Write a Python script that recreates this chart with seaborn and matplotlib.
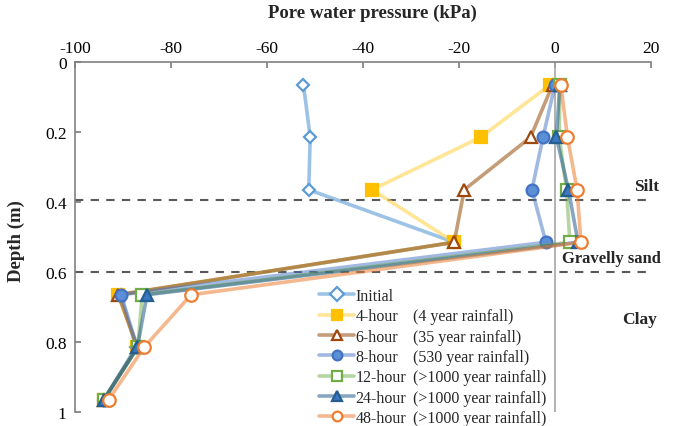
import matplotlib
matplotlib.use("Agg")
import matplotlib.pyplot as plt
from matplotlib.colors import to_rgba
import seaborn as sns
import pandas as pd

# Measurement depths (m)
depth = [0.065, 0.215, 0.365, 0.515, 0.665, 0.815, 0.965]

# Pore water pressure profiles (kPa)
initial = [-52.4, -51.0, -51.3, -21.0, -90.5, -87.3, -94.0]
h4 = [-1.0, -15.5, -38.1, -21.0, -91.0, -87.0, -94.0]
h6 = [-0.5, -5.1, -18.9, -21.0, -91.0, -87.0, -94.0]
h8 = [0.0, -2.5, -4.8, -1.9, -90.4, -87.0, -94.0]
h12 = [1.0, 0.9, 2.4, 3.1, -86.0, -86.9, -94.0]
h24 = [1.0, 0.3, 2.8, 4.8, -85.0, -87.0, -94.0]
h48 = [1.2, 2.6, 4.6, 5.4, -75.8, -85.6, -93.0]

series_names = ["Initial", "4-hour", "6-hour", "8-hour", "12-hour", "24-hour", "48-hour"]
return_periods = ["", "(4 year rainfall)", "(35 year rainfall)", "(530 year rainfall)",
                  "(>1000 year rainfall)", "(>1000 year rainfall)", "(>1000 year rainfall)"]
layer_boundaries = [0.395, 0.6]

sns.set_theme(style="white")
plt.rcParams["font.family"] = ["Liberation Serif", "DejaVu Serif"]
plt.rcParams["axes.unicode_minus"] = False

# (line colour, line alpha, marker, marker face, marker edge, marker size)
styles = [
    ("#5B9BD5", 0.6, "D", "white", "#5B9BD5", 6.5),
    ("#FFD54F", 0.6, "s", "#FFC000", "#FFC000", 8),
    ("#9E5A1E", 0.6, "^", "white", "#9E480E", 8.5),
    ("#4472C4", 0.5, "o", "#5B8FD6", "#4472C4", 8.5),
    ("#70AD47", 0.5, "s", "white", "#70AD47", 8),
    ("#255E91", 0.55, "^", "#3C78C0", "#255E91", 8.5),
    ("#ED7D31", 0.55, "o", "white", "#ED7D31", 9),
]

fig = plt.figure(figsize=(6.73, 4.27), dpi=100)
ax = fig.add_axes([75 / 673, 1 - 413 / 427, (651 - 75) / 673, (413 - 63) / 427])

ax.axvline(0, color="#A6A6A6", lw=1.2, zorder=1)
for b in layer_boundaries:
    ax.axhline(b, color="#595959", lw=1.5, ls=(0, (4, 3.5)), zorder=1)

all_vals = [initial, h4, h6, h8, h12, h24, h48]
handles = []
for i, (name, vals, st) in enumerate(zip(series_names, all_vals, styles)):
    lc, la, mk, mfc, mec, ms = st
    df = pd.DataFrame({"pressure": vals, "depth": depth})
    sns.lineplot(data=df, x="pressure", y="depth", sort=False, estimator=None,
                 color=to_rgba(lc, la), lw=2.6, marker=mk, markersize=ms,
                 markerfacecolor=mfc, markeredgecolor=mec, markeredgewidth=1.6,
                 ax=ax, label=name, zorder=2 + i)
    handles.append(ax.lines[-1])

ax.set_xlim(-100, 20)
ax.set_ylim(1, 0)
ax.set_xticks(range(-100, 21, 20))
ax.set_yticks([0, 0.2, 0.4, 0.6, 0.8, 1.0])
ax.set_yticklabels(["0", "0.2", "0.4", "0.6", "0.8", "1"])
ax.xaxis.tick_top()
ax.xaxis.set_label_position("top")
ax.tick_params(axis="both", direction="in", length=4, color="#808080", labelsize=12.5,
               labelcolor="black", pad=5)
ax.tick_params(axis="x", top=True, bottom=False, pad=4)
ax.tick_params(axis="y", left=True, right=False, pad=6)
for side in ["right", "bottom"]:
    ax.spines[side].set_visible(False)
for side in ["left", "top"]:
    ax.spines[side].set_color("#808080")
    ax.spines[side].set_linewidth(1.2)

ax.set_xlabel("Pore water pressure (kPa)", fontsize=13.5, fontweight="bold")
ax.set_ylabel("Depth (m)", fontsize=13.5, fontweight="bold")
ax.xaxis.set_label_coords(0.517, 1 + 45 / 350)
ax.yaxis.set_label_coords(-50 / 576, 0.49)

ax.text(19.0, 0.355, "Silt", ha="center", va="center", fontsize=12.5, fontweight="bold")
ax.text(11.7, 0.56, "Gravelly sand", ha="center", va="center", fontsize=12, fontweight="bold")
ax.text(17.7, 0.735, "Clay", ha="center", va="center", fontsize=12.5, fontweight="bold")

leg = ax.legend(handles, series_names, loc="upper left",
                bbox_to_anchor=(319 / 673, 1 - 289 / 427), bbox_transform=fig.transFigure,
                frameon=False, fontsize=11.5, handlelength=2.2, handletextpad=0.1,
                labelspacing=0.27, borderaxespad=0, borderpad=0)
for lh in leg.get_lines():
    lh.set_markersize(7)

fig.canvas.draw()
renderer = fig.canvas.get_renderer()
inv = fig.transFigure.inverted()
for txt, rp in zip(leg.get_texts(), return_periods):
    if not rp:
        continue
    bb = txt.get_window_extent(renderer)
    y_mid = (bb.y0 + bb.y1) / 2
    _, yf = inv.transform((0, y_mid))
    fig.text(413 / 673, yf, rp, ha="left", va="center", fontsize=11.5)

fig.savefig("out.png", dpi=100)
